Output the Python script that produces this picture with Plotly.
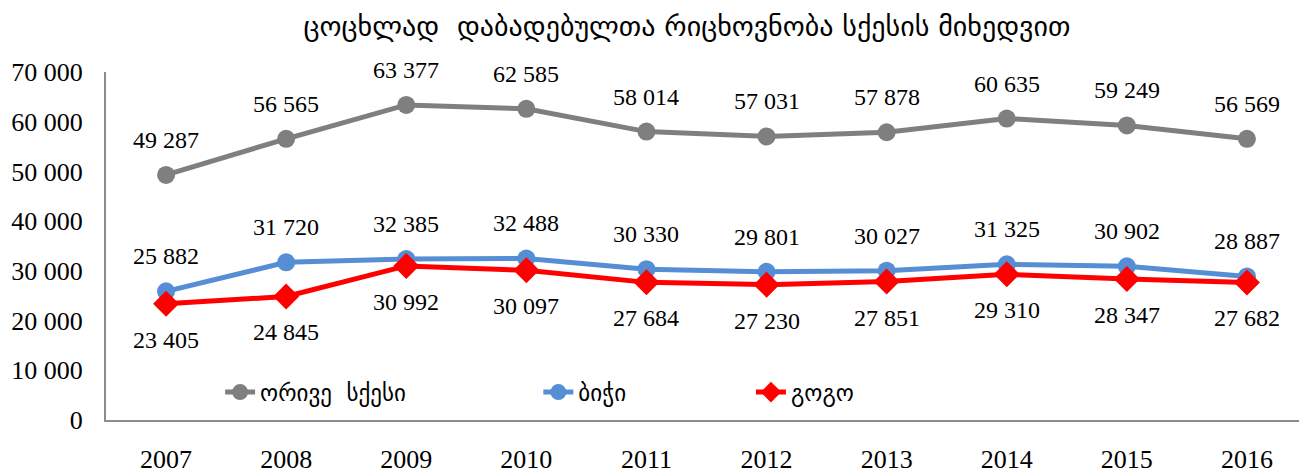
import plotly.graph_objects as go

years = ["2007", "2008", "2009", "2010", "2011", "2012", "2013", "2014", "2015", "2016"]
total = [49287, 56565, 63377, 62585, 58014, 57031, 57878, 60635, 59249, 56569]
boys = [25882, 31720, 32385, 32488, 30330, 29801, 30027, 31325, 30902, 28887]
girls = [23405, 24845, 30992, 30097, 27684, 27230, 27851, 29310, 28347, 27682]

title = "ცოცხლად  დაბადებულთა რიცხოვნობა სქესის მიხედვით"
names = ["ორივე  სქესი", "ბიჭი", "გოგო"]

GRAY = "#7F7F7F"
BLUE = "#558ED5"
RED = "#FF0000"
SERIF = "Liberation Serif, Times New Roman, serif"
GEO = "DejaVu Sans, sans-serif"

def fmt(v):
    return f"{v:,}".replace(",", " ")

fig = go.Figure()
fig.add_trace(go.Scatter(x=years, y=total, name=names[0], mode="lines+markers",
                         line=dict(color=GRAY, width=5),
                         marker=dict(symbol="circle", size=18, color=GRAY),
                         legend="legend"))
fig.add_trace(go.Scatter(x=years, y=boys, name=names[1], mode="lines+markers",
                         line=dict(color=BLUE, width=5),
                         marker=dict(symbol="circle", size=18, color=BLUE),
                         legend="legend2"))
fig.add_trace(go.Scatter(x=years, y=girls, name=names[2], mode="lines+markers",
                         line=dict(color=RED, width=5),
                         marker=dict(symbol="diamond", size=20, color=RED),
                         legend="legend3"))

annots = []
for series, shift in ((total, 35), (boys, 35), (girls, -36)):
    for i, v in enumerate(series):
        annots.append(dict(x=i, y=v, xref="x", yref="y", text=fmt(v), showarrow=False,
                           yshift=shift, font=dict(family=SERIF, size=24, color="black")))

leg_common = dict(orientation="h", yanchor="middle", y=0.08, xanchor="left",
                  bgcolor="rgba(0,0,0,0)", font=dict(family=GEO, size=23, color="black"))

fig.update_layout(
    width=1299, height=468,
    margin=dict(l=98, r=0, t=64, b=56, autoexpand=False),
    paper_bgcolor="white", plot_bgcolor="white",
    separators=". ",
    showlegend=True,
    title=dict(text=title, x=0.5227, xanchor="center", y=0.962, yanchor="middle",
               font=dict(family=GEO, size=28, color="black")),
    annotations=annots,
    legend=dict(x=0.095, **leg_common),
    legend2=dict(x=0.360, **leg_common),
    legend3=dict(x=0.537, **leg_common),
    xaxis=dict(type="category", range=[-0.5, 9.5], showgrid=False, showline=True,
               linecolor="#8C8C8C", linewidth=2, automargin=False,
               ticks="outside", ticklen=15, tickcolor="rgba(0,0,0,0)",
               tickfont=dict(family=SERIF, size=26, color="black"), zeroline=False),
    yaxis=dict(range=[0, 70000], dtick=10000, tickformat=",d", showgrid=False, showline=True,
               linecolor="#8C8C8C", linewidth=2, ticks="outside", ticklen=16, automargin=False,
               tickcolor="rgba(0,0,0,0)", zeroline=False,
               tickfont=dict(family=SERIF, size=26, color="black")),
)

fig.write_html("out.html")
